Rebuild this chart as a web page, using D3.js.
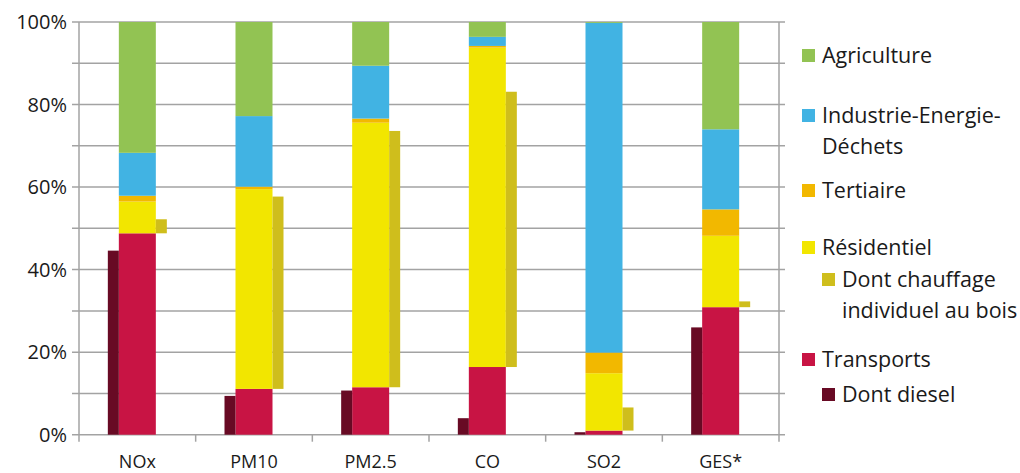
<!DOCTYPE html>
<html>
<head>
<meta charset="utf-8">
<script src="https://cdn.jsdelivr.net/npm/d3@7"></script>
<style>
  html, body { margin: 0; padding: 0; background: #fff; }
  svg { display: block; }
  text { font-family: "Open Sans", "DejaVu Sans", sans-serif; fill: #1a1a1a; }
</style>
</head>
<body>
<svg id="chart" width="1020" height="473"></svg>
<script>
// Polluants et parts des secteurs émetteurs (%)
const categories = ["NOx", "PM10", "PM2.5", "CO", "SO2", "GES*"];
const transports  = [48.8, 11.1, 11.5, 16.4, 1.0, 30.9];
const residentiel = [7.7, 48.4, 64.1, 77.4, 13.9, 17.3];
const tertiaire   = [1.4, 0.6, 1.0, 0.4, 5.0, 6.4];
const industrie   = [10.4, 17.1, 12.8, 2.2, 79.9, 19.4];
const agriculture = [31.7, 22.8, 10.6, 3.6, 0.2, 26.0];
// Sous-parts
const diesel = [44.6, 9.4, 10.7, 4.0, 0.6, 26.0];
const bois   = [3.4, 46.6, 62.1, 66.7, 5.6, 1.4];
const yTicks = [0, 20, 40, 60, 80, 100];

const colors = {
  transports: "#c81444",
  diesel: "#680a24",
  residentiel: "#f2e600",
  bois: "#cfbe1c",
  tertiaire: "#f2b800",
  industrie: "#41b3e3",
  agriculture: "#92c353"
};

const svg = d3.select("#chart");
const plotLeft = 79, plotRight = 779, plotTop = 22, plotBottom = 434.7;

const x = d3.scaleBand().domain(categories).range([plotLeft, plotRight]).padding(0);
const y = d3.scaleLinear().domain([0, 100]).range([plotBottom, plotTop]);

const mainW = 37, sideW = 11;
const gridColor = "#a3a3a3";

// grid lines every 10 %
svg.append("g").selectAll("line")
  .data(d3.range(0, 101, 10))
  .join("line")
  .attr("x1", plotLeft - 7).attr("x2", plotRight + 6)
  .attr("y1", d => y(d)).attr("y2", d => y(d))
  .attr("stroke", gridColor).attr("stroke-width", 1.5);

// frame verticals
[plotLeft, plotRight].forEach(px => {
  svg.append("line").attr("x1", px).attr("x2", px)
    .attr("y1", plotTop).attr("y2", plotBottom + 7)
    .attr("stroke", gridColor).attr("stroke-width", 1.5);
});

// category separators below axis
svg.append("g").selectAll("line")
  .data(categories.slice(1))
  .join("line")
  .attr("x1", d => x(d)).attr("x2", d => x(d))
  .attr("y1", plotBottom).attr("y2", plotBottom + 7)
  .attr("stroke", gridColor).attr("stroke-width", 1.5);

// stacked main bars
const keys = ["transports", "residentiel", "tertiaire", "industrie", "agriculture"];
const series = { transports, residentiel, tertiaire, industrie, agriculture };
const rows = categories.map((c, i) => {
  const r = { cat: c };
  keys.forEach(k => r[k] = series[k][i]);
  return r;
});
const stacked = d3.stack().keys(keys)(rows);

svg.append("g").selectAll("g")
  .data(stacked)
  .join("g")
  .attr("fill", d => colors[d.key])
  .selectAll("rect")
  .data(d => d)
  .join("rect")
  .attr("x", d => x(d.data.cat) + x.bandwidth() / 2 - mainW / 2)
  .attr("width", mainW)
  .attr("y", d => y(d[1]))
  .attr("height", d => y(d[0]) - y(d[1]));

// diesel share, left of the transport bar
svg.append("g").selectAll("rect")
  .data(categories)
  .join("rect")
  .attr("fill", colors.diesel)
  .attr("x", d => x(d) + x.bandwidth() / 2 - mainW / 2 - sideW)
  .attr("width", sideW)
  .attr("y", (d, i) => y(diesel[i]))
  .attr("height", (d, i) => y(0) - y(diesel[i]));

// wood heating share, floating right of the residential segment
svg.append("g").selectAll("rect")
  .data(categories)
  .join("rect")
  .attr("fill", colors.bois)
  .attr("x", d => x(d) + x.bandwidth() / 2 + mainW / 2)
  .attr("width", sideW)
  .attr("y", (d, i) => y(transports[i] + bois[i]))
  .attr("height", (d, i) => y(transports[i]) - y(transports[i] + bois[i]));

// y tick labels
svg.append("g").selectAll("text")
  .data(yTicks)
  .join("text")
  .attr("x", 67).attr("y", d => y(d) + 7)
  .attr("text-anchor", "end")
  .attr("font-size", 20)
  .text(d => d + "%");

// category labels
svg.append("g").selectAll("text")
  .data(categories)
  .join("text")
  .attr("x", d => x(d) + x.bandwidth() / 2)
  .attr("y", 468)
  .attr("text-anchor", "middle")
  .attr("font-size", 18)
  .text(d => d);

// legend
const legend = [
  { key: "agriculture", lines: ["Agriculture"], y: 63, indent: 0 },
  { key: "industrie", lines: ["Industrie-Energie-", "Déchets"], y: 123, indent: 0 },
  { key: "tertiaire", lines: ["Tertiaire"], y: 198, indent: 0 },
  { key: "residentiel", lines: ["Résidentiel"], y: 255, indent: 0 },
  { key: "bois", lines: ["Dont chauffage", "individuel au bois"], y: 287, indent: 20 },
  { key: "transports", lines: ["Transports"], y: 367, indent: 0 },
  { key: "diesel", lines: ["Dont diesel"], y: 402, indent: 20 }
];
const lg = svg.append("g");
legend.forEach(item => {
  lg.append("rect")
    .attr("x", 802 + item.indent).attr("y", item.y - 14)
    .attr("width", 13).attr("height", 13)
    .attr("fill", colors[item.key]);
  const t = lg.append("text")
    .attr("x", 822 + item.indent).attr("y", item.y)
    .attr("font-size", 21.5);
  item.lines.forEach((l, j) => {
    t.append("tspan").attr("x", 822 + item.indent).attr("dy", j === 0 ? 0 : 31).text(l);
  });
});
</script>
</body>
</html>
